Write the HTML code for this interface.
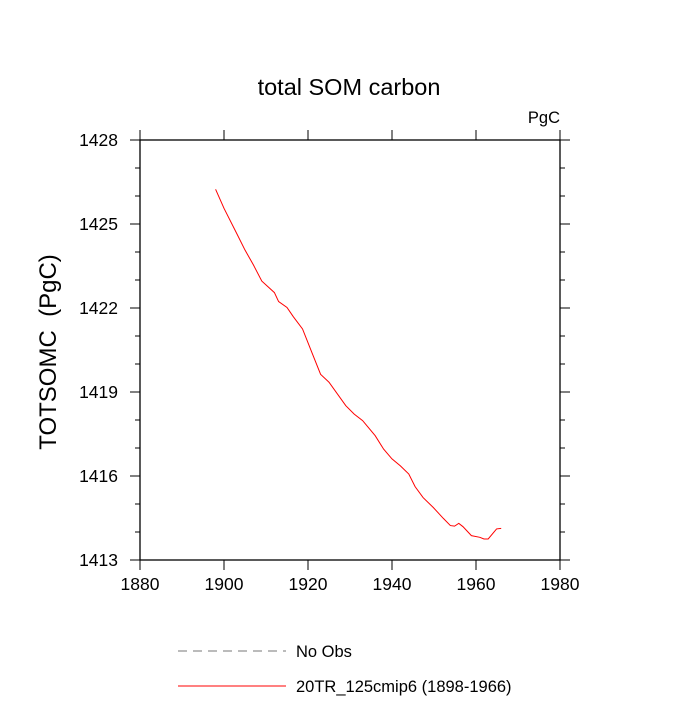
<!DOCTYPE html>
<html><head><meta charset="utf-8"><style>
body{margin:0;background:#fff}
svg text{font-family:"Liberation Sans",sans-serif}
</style></head><body>
<svg id="chart" width="700" height="700" viewBox="0 0 700 700" xmlns="http://www.w3.org/2000/svg">
<text x="349" y="95" font-size="23.5" text-anchor="middle">total SOM carbon</text>
<text x="560" y="123" font-size="16.5" text-anchor="end">PgC</text>
<text transform="translate(56,352) rotate(-90)" font-size="24" text-anchor="middle" xml:space="preserve">TOTSOMC  (PgC)</text>
<g id="axes"></g>
<g id="series"></g>
<g>
<line x1="178" y1="651" x2="286" y2="651" stroke="#777" stroke-width="1" stroke-dasharray="9,6"/>
<text x="296" y="657" font-size="16.5">No Obs</text>
<line x1="178" y1="686" x2="286" y2="686" stroke="red" stroke-width="1"/>
<text x="296" y="692" font-size="16.5">20TR_125cmip6 (1898-1966)</text>
</g>
</svg>
<script>
const years=[1898,1900,1903,1905,1907,1909,1912,1913,1915,1916.5,1918.7,1921,1923,1925,1929,1931,1933,1936,1938,1940,1942,1944,1945.5,1947.4,1949.8,1952.2,1953.9,1954.9,1955.9,1956.9,1958.9,1960.9,1961.9,1962.9,1964.9,1966];
const values=[1426.24,1425.56,1424.67,1424.07,1423.54,1422.96,1422.55,1422.23,1422.02,1421.69,1421.25,1420.38,1419.63,1419.35,1418.51,1418.21,1417.98,1417.44,1416.96,1416.61,1416.36,1416.07,1415.62,1415.23,1414.88,1414.49,1414.23,1414.21,1414.31,1414.19,1413.87,1413.81,1413.75,1413.75,1414.11,1414.13];
const xTicks=[1880,1900,1920,1940,1960,1980];
const yTicks=[1413,1416,1419,1422,1425,1428];
const L=140,R=560,T=140,B=560;
const xs=v=>L+(v-1880)/100*(R-L);
const ys=v=>B-(v-1413)/15*(B-T);
const NS="http://www.w3.org/2000/svg";
const ax=document.getElementById('axes');
function mk(t,a,p){const e=document.createElementNS(NS,t);for(const k in a)e.setAttribute(k,a[k]);p.appendChild(e);return e;}
const fr=mk('rect',{x:L,y:T,width:R-L,height:B-T,fill:'none',stroke:'#000','stroke-width':1.3},ax);


xTicks.forEach(v=>{const x=xs(v);
 const t1=mk('line',{x1:x,y1:B,x2:x,y2:B+10,stroke:'#000'},ax);
 
 
 const t2=mk('line',{x1:x,y1:T,x2:x,y2:T-10,stroke:'#000'},ax);
 
 
 const tx=mk('text',{x:x,y:B+30,'font-size':17.5,'text-anchor':'middle'},ax);tx.textContent=v;
 
 
});
for(let v=1413;v<=1428;v++){const y=ys(v);const maj=(v-1413)%3===0;const len=maj?10:5;
 const a=mk('line',{x1:L,y1:y,x2:L-len,y2:y,stroke:'#000'},ax);
 
 
 const b=mk('line',{x1:R,y1:y,x2:R+len,y2:y,stroke:'#000'},ax);
 
 
}
yTicks.forEach(v=>{const tx=mk('text',{x:L-22,y:ys(v)+6,'font-size':17.5,'text-anchor':'end'},ax);tx.textContent=v;
 
 
});
const pl=mk('polyline',{points:years.map((y,i)=>xs(y)+','+ys(values[i])).join(' '),fill:'none',stroke:'red','stroke-width':1},document.getElementById('series'));


</script>
</body></html>
